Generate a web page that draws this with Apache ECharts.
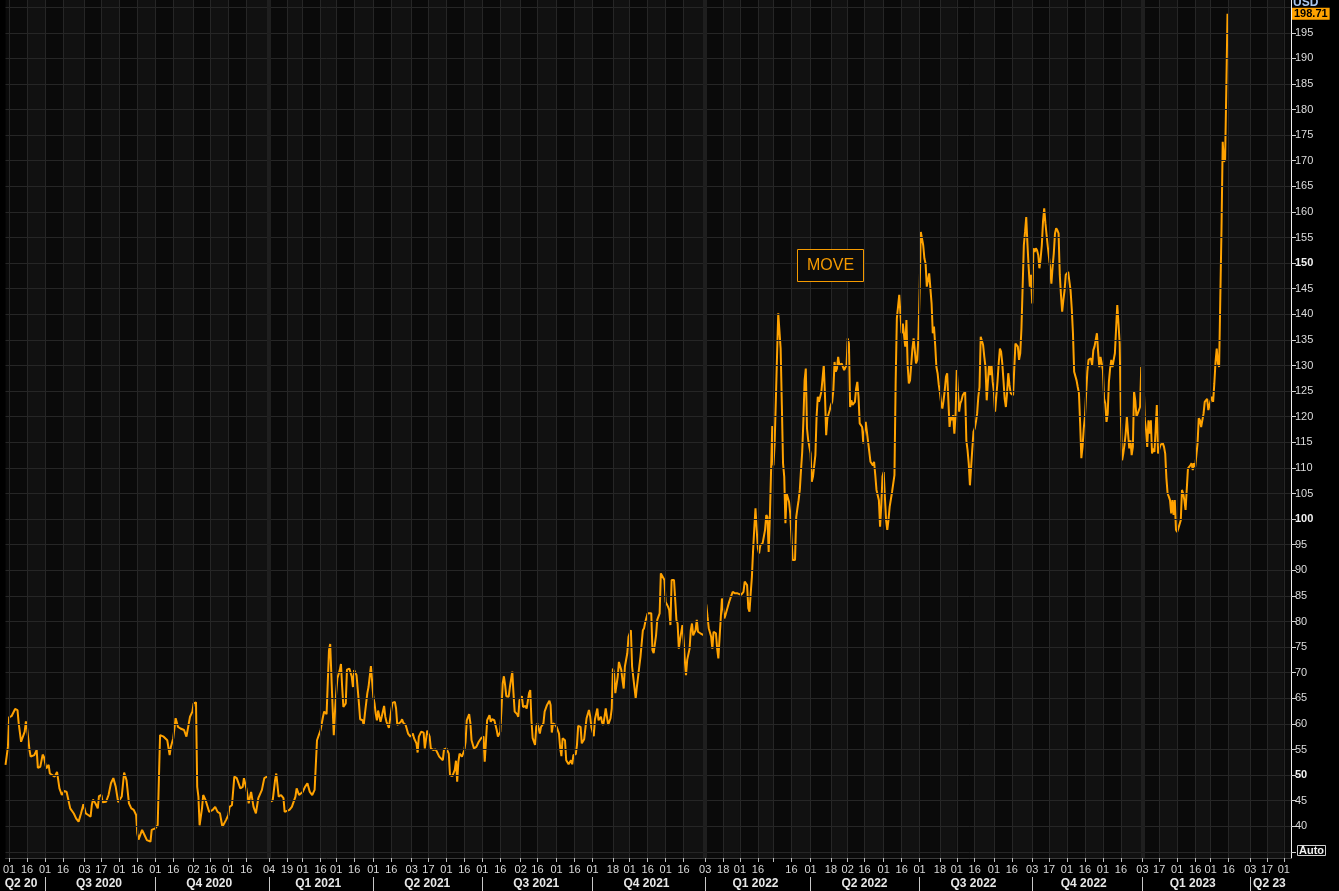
<!DOCTYPE html>
<html><head><meta charset="utf-8">
<script src="https://cdn.jsdelivr.net/npm/echarts@6/dist/echarts.min.js"></script>
<style>html,body{margin:0;padding:0;background:#000;}#chart{width:1339px;height:891px;}</style>
</head><body><div id="chart"></div>
<script>
const seriesName = 'MOVE';
const currency = 'USD';

const move2020 = [['2020-05-29',52.0],['2020-05-31',55.5],['2020-06-01',61.3],['2020-06-03',61.5],['2020-06-06',62.9],['2020-06-08',62.7],['2020-06-09',60.1],['2020-06-11',56.5],['2020-06-12',56.2],['2020-06-14',58.5],['2020-06-15',60.5],['2020-06-16',59.1],['2020-06-18',54.9],['2020-06-19',53.6],['2020-06-22',53.9],['2020-06-24',54.9],['2020-06-25',51.4],['2020-06-27',51.6],['2020-06-29',54.0],['2020-06-30',53.6],['2020-07-02',51.3],['2020-07-04',52.0],['2020-07-05',50.3],['2020-07-09',49.7],['2020-07-11',50.6],['2020-07-13',47.4],['2020-07-15',46.1],['2020-07-17',46.9],['2020-07-19',46.7],['2020-07-22',43.5],['2020-07-25',42.5],['2020-07-27',41.5],['2020-07-29',40.9],['2020-07-31',42.5],['2020-08-02',44.3],['2020-08-04',42.5],['2020-08-06',42.2],['2020-08-08',41.9],['2020-08-09',44.1],['2020-08-10',45.2],['2020-08-12',44.5],['2020-08-14',43.5],['2020-08-15',45.9],['2020-08-17',46.1],['2020-08-18',44.7],['2020-08-21',44.8],['2020-08-23',46.1],['2020-08-25',48.4],['2020-08-27',49.4],['2020-08-29',47.7],['2020-08-31',44.7],['2020-09-03',45.8],['2020-09-04',46.1],['2020-09-05',50.5],['2020-09-07',49.0],['2020-09-09',44.5],['2020-09-11',43.5],['2020-09-13',43.2],['2020-09-15',42.2],['2020-09-16',38.6],['2020-09-17',37.4],['2020-09-20',39.3],['2020-09-22',38.3],['2020-09-24',37.3],['2020-09-27',37.0],['2020-09-28',39.3],['2020-10-01',39.6],['2020-10-03',40.2],['2020-10-04',49.0],['2020-10-05',57.8],['2020-10-08',57.5],['2020-10-11',56.8],['2020-10-13',53.9],['2020-10-14',55.5],['2020-10-16',57.2],['2020-10-18',61.1],['2020-10-20',59.4],['2020-10-22',59.1],['2020-10-25',58.8],['2020-10-27',57.5],['2020-10-28',57.8],['2020-10-30',61.4],['2020-11-01',62.4],['2020-11-02',64.0],['2020-11-04',64.2],['2020-11-05',47.7],['2020-11-06',45.8],['2020-11-07',40.2],['2020-11-09',43.5],['2020-11-10',46.1],['2020-11-12',45.1],['2020-11-15',42.8],['2020-11-18',43.2],['2020-11-20',43.8],['2020-11-22',42.8],['2020-11-24',42.5],['2020-11-26',39.9],['2020-11-29',41.2],['2020-12-01',42.2],['2020-12-02',43.8],['2020-12-04',44.1],['2020-12-06',49.7],['2020-12-08',49.4],['2020-12-11',47.4],['2020-12-13',47.7],['2020-12-14',49.4],['2020-12-16',47.4],['2020-12-18',44.5],['2020-12-20',46.7],['2020-12-22',43.8],['2020-12-24',42.5],['2020-12-26',45.5],['2020-12-29',47.1],['2020-12-31',49.4]];

const move2021 = [['2021-01-03',49.8],['2021-01-04',48.4],['2021-01-05',44.8],['2021-01-07',45.0],['2021-01-09',49.0],['2021-01-10',50.3],['2021-01-12',45.8],['2021-01-14',46.1],['2021-01-16',45.5],['2021-01-17',42.8],['2021-01-21',43.2],['2021-01-23',43.8],['2021-01-26',45.8],['2021-01-27',47.4],['2021-01-29',46.1],['2021-02-01',46.7],['2021-02-03',47.7],['2021-02-05',48.4],['2021-02-07',46.7],['2021-02-09',46.1],['2021-02-11',47.1],['2021-02-12',52.0],['2021-02-13',56.8],['2021-02-14',56.5],['2021-02-16',58.8],['2021-02-18',61.4],['2021-02-19',62.4],['2021-02-21',61.9],['2021-02-22',68.2],['2021-02-23',74.4],['2021-02-24',75.6],['2021-02-25',75.4],['2021-02-26',63.3],['2021-02-27',57.8],['2021-02-28',62.4],['2021-03-01',66.0],['2021-03-02',68.9],['2021-03-04',70.5],['2021-03-05',71.7],['2021-03-06',67.2],['2021-03-07',63.3],['2021-03-09',64.0],['2021-03-10',70.6],['2021-03-12',70.8],['2021-03-14',69.2],['2021-03-15',67.2],['2021-03-16',70.5],['2021-03-18',69.5],['2021-03-20',64.0],['2021-03-21',60.9],['2021-03-23',60.7],['2021-03-24',59.8],['2021-03-25',62.0],['2021-03-27',66.0],['2021-03-28',67.2],['2021-03-30',71.3],['2021-03-31',71.2],['2021-04-01',65.3],['2021-04-02',64.0],['2021-04-03',62.0],['2021-04-04',60.7],['2021-04-05',62.6],['2021-04-07',60.4],['2021-04-08',61.4],['2021-04-10',63.5],['2021-04-11',61.4],['2021-04-12',60.4],['2021-04-14',59.2],['2021-04-16',62.7],['2021-04-17',64.1],['2021-04-19',64.3],['2021-04-20',63.0],['2021-04-21',59.8],['2021-04-24',60.4],['2021-04-25',60.9],['2021-04-26',60.2],['2021-04-28',59.8],['2021-04-30',58.1],['2021-05-02',57.5],['2021-05-04',58.1],['2021-05-05',57.2],['2021-05-07',56.2],['2021-05-08',54.4],['2021-05-09',57.5],['2021-05-11',58.5],['2021-05-13',58.3],['2021-05-14',55.2],['2021-05-16',58.7],['2021-05-18',57.5],['2021-05-19',55.2],['2021-05-21',54.9],['2021-05-23',55.0],['2021-05-24',54.6],['2021-05-26',53.6],['2021-05-27',53.3],['2021-05-29',52.9],['2021-05-30',55.0],['2021-06-01',55.2],['2021-06-03',54.2],['2021-06-04',50.0],['2021-06-06',49.8],['2021-06-08',51.0],['2021-06-09',52.8],['2021-06-10',48.7],['2021-06-11',52.6],['2021-06-12',54.2],['2021-06-14',53.6],['2021-06-16',54.9],['2021-06-17',56.5],['2021-06-18',60.7],['2021-06-20',61.9],['2021-06-21',60.2],['2021-06-22',56.8],['2021-06-24',55.2],['2021-06-26',55.5],['2021-06-28',56.5],['2021-06-30',57.2],['2021-07-02',57.5],['2021-07-03',52.6],['2021-07-04',56.5],['2021-07-05',60.7],['2021-07-07',61.7],['2021-07-08',60.4],['2021-07-09',60.9],['2021-07-11',60.7],['2021-07-13',58.8],['2021-07-14',57.5],['2021-07-16',58.5],['2021-07-17',63.0],['2021-07-18',67.9],['2021-07-19',69.3],['2021-07-20',67.6],['2021-07-21',65.4],['2021-07-23',65.3],['2021-07-24',67.2],['2021-07-26',70.2],['2021-07-27',66.0],['2021-07-28',62.4],['2021-07-30',61.9],['2021-07-31',61.4],['2021-08-01',64.6],['2021-08-03',65.4],['2021-08-04',63.3],['2021-08-06',63.5],['2021-08-07',63.0],['2021-08-09',66.0],['2021-08-10',66.6],['2021-08-11',60.7],['2021-08-12',57.2],['2021-08-14',55.9],['2021-08-15',59.4],['2021-08-16',60.1],['2021-08-18',58.1],['2021-08-19',59.4],['2021-08-21',60.1],['2021-08-22',62.4],['2021-08-24',63.7],['2021-08-26',64.5],['2021-08-27',63.7],['2021-08-28',58.3],['2021-08-29',60.1],['2021-08-31',59.8],['2021-09-01',59.4],['2021-09-03',58.1],['2021-09-04',55.2],['2021-09-05',53.7],['2021-09-06',57.2],['2021-09-08',56.8],['2021-09-09',52.9],['2021-09-11',52.1],['2021-09-13',52.9],['2021-09-14',52.1],['2021-09-15',53.9],['2021-09-17',54.1],['2021-09-18',55.9],['2021-09-19',59.6],['2021-09-21',59.4],['2021-09-22',56.2],['2021-09-24',57.0],['2021-09-25',59.1],['2021-09-26',61.1],['2021-09-28',62.7],['2021-09-29',61.5],['2021-09-30',59.4],['2021-10-02',57.6],['2021-10-03',60.9],['2021-10-05',63.0],['2021-10-06',60.7],['2021-10-08',61.4],['2021-10-09',60.2],['2021-10-10',59.8],['2021-10-12',63.0],['2021-10-13',61.4],['2021-10-14',59.8],['2021-10-16',61.1],['2021-10-17',63.0],['2021-10-18',70.8],['2021-10-19',69.9],['2021-10-20',66.0],['2021-10-22',69.2],['2021-10-23',72.1],['2021-10-25',70.5],['2021-10-26',68.5],['2021-10-27',66.9],['2021-10-28',71.2],['2021-10-30',73.8],['2021-10-31',77.0],['2021-11-02',78.3],['2021-11-03',71.2],['2021-11-06',65.0],['2021-11-07',67.2],['2021-11-09',71.2],['2021-11-10',73.1],['2021-11-12',78.3],['2021-11-13',78.7],['2021-11-14',79.9],['2021-11-16',81.6],['2021-11-19',81.6],['2021-11-20',74.4],['2021-11-21',73.8],['2021-11-23',77.3],['2021-11-24',80.3],['2021-11-26',81.6],['2021-11-27',89.4],['2021-11-28',89.7],['2021-11-30',88.1],['2021-12-01',83.8],['2021-12-03',82.9],['2021-12-04',82.2],['2021-12-05',79.3],['2021-12-06',88.1],['2021-12-08',88.1],['2021-12-09',84.2],['2021-12-10',80.3],['2021-12-11',79.6],['2021-12-12',74.7],['2021-12-13',76.4],['2021-12-15',79.3],['2021-12-16',76.4],['2021-12-17',72.5],['2021-12-18',69.5],['2021-12-19',72.5],['2021-12-21',74.7],['2021-12-22',78.3],['2021-12-23',79.6],['2021-12-24',77.3],['2021-12-26',78.3],['2021-12-27',80.3],['2021-12-28',78.0],['2021-12-30',77.7]];

const move2022 = [['2022-01-02',77.3],['2022-01-03',84.2],['2022-01-04',83.2],['2022-01-05',80.9],['2022-01-06',78.7],['2022-01-08',77.0],['2022-01-09',74.7],['2022-01-10',78.0],['2022-01-12',77.7],['2022-01-13',74.7],['2022-01-14',72.8],['2022-01-15',76.7],['2022-01-16',80.6],['2022-01-17',84.5],['2022-01-19',80.6],['2022-01-20',81.3],['2022-01-21',81.6],['2022-01-23',83.8],['2022-01-24',84.5],['2022-01-26',85.8],['2022-01-28',85.5],['2022-01-30',85.5],['2022-01-31',85.2],['2022-02-02',85.2],['2022-02-04',85.8],['2022-02-05',87.8],['2022-02-07',87.1],['2022-02-08',82.6],['2022-02-09',81.9],['2022-02-10',85.5],['2022-02-11',88.7],['2022-02-12',93.9],['2022-02-13',98.2],['2022-02-14',102.1],['2022-02-15',97.9],['2022-02-16',94.3],['2022-02-17',93.3],['2022-02-18',94.9],['2022-02-19',94.6],['2022-02-20',95.3],['2022-02-21',95.6],['2022-02-22',97.9],['2022-02-23',100.8],['2022-02-24',100.4],['2022-02-25',93.6],['2022-02-26',100.4],['2022-02-27',100.4],['2022-02-28',118.2],['2022-03-01',110.5],['2022-03-02',114.8],['2022-03-03',123.2],['2022-03-04',132.0],['2022-03-05',140.2],['2022-03-06',140.2],['2022-03-07',133.3],['2022-03-08',122.3],['2022-03-09',110.9],['2022-03-10',108.3],['2022-03-11',99.2],['2022-03-12',105.0],['2022-03-13',105.0],['2022-03-14',103.4],['2022-03-15',101.1],['2022-03-16',100.8],['2022-03-17',92.0],['2022-03-19',92.0],['2022-03-20',100.4],['2022-03-21',102.1],['2022-03-22',103.7],['2022-03-23',105.7],['2022-03-24',109.6],['2022-03-25',113.1],['2022-03-26',119.3],['2022-03-27',127.1],['2022-03-28',129.4],['2022-03-29',117.7],['2022-03-30',115.4],['2022-04-01',112.8],['2022-04-02',107.3],['2022-04-03',108.3],['2022-04-04',108.6],['2022-04-05',112.5],['2022-04-06',120.0],['2022-04-07',123.9],['2022-04-08',122.9],['2022-04-09',123.9],['2022-04-10',124.9],['2022-04-12',130.1],['2022-04-13',124.2],['2022-04-14',116.4],['2022-04-15',119.7],['2022-04-17',121.3],['2022-04-18',122.3],['2022-04-19',122.9],['2022-04-20',125.2],['2022-04-21',130.7],['2022-04-22',128.8],['2022-04-23',129.4],['2022-04-24',131.7],['2022-04-25',130.1],['2022-04-27',130.4],['2022-04-28',130.7],['2022-04-29',129.1],['2022-04-30',128.8],['2022-05-01',130.1],['2022-05-02',135.3],['2022-05-03',134.3],['2022-05-04',121.9],['2022-05-05',123.2],['2022-05-06',122.3],['2022-05-08',122.9],['2022-05-09',125.5],['2022-05-10',126.8],['2022-05-11',123.9],['2022-05-12',118.7],['2022-05-13',118.4],['2022-05-14',118.0],['2022-05-15',114.8],['2022-05-16',117.1],['2022-05-17',119.0],['2022-05-18',119.3],['2022-05-19',115.1],['2022-05-20',115.1],['2022-05-21',111.2],['2022-05-23',110.5],['2022-05-24',111.2],['2022-05-25',108.6],['2022-05-26',105.7],['2022-05-28',103.7],['2022-05-29',98.5],['2022-05-30',102.7],['2022-05-31',108.3],['2022-06-01',109.2],['2022-06-02',104.4],['2022-06-03',99.8],['2022-06-04',97.9],['2022-06-05',99.8],['2022-06-06',102.4],['2022-06-07',102.7],['2022-06-08',105.3],['2022-06-10',108.6],['2022-06-11',126.8],['2022-06-12',139.2],['2022-06-13',141.5],['2022-06-14',143.8],['2022-06-15',143.8],['2022-06-16',136.3],['2022-06-17',138.2],['2022-06-19',133.7],['2022-06-20',138.9],['2022-06-21',130.1],['2022-06-22',126.5],['2022-06-23',127.1],['2022-06-25',133.3],['2022-06-26',135.3],['2022-06-27',135.0],['2022-06-28',130.4],['2022-06-29',131.1],['2022-06-30',135.6],['2022-07-01',144.4],['2022-07-02',156.1],['2022-07-03',155.8],['2022-07-04',153.5],['2022-07-05',150.9],['2022-07-06',149.9],['2022-07-07',145.4],['2022-07-08',145.7],['2022-07-09',148.0],['2022-07-10',148.1],['2022-07-11',142.1],['2022-07-12',136.3],['2022-07-13',137.6],['2022-07-14',134.0],['2022-07-15',129.7],['2022-07-16',128.5],['2022-07-17',126.2],['2022-07-18',124.6],['2022-07-19',122.6],['2022-07-20',121.6],['2022-07-21',123.2],['2022-07-22',125.2],['2022-07-23',127.8],['2022-07-24',128.5],['2022-07-25',123.2],['2022-07-26',118.0],['2022-07-27',120.0],['2022-07-28',119.3],['2022-07-29',120.3],['2022-07-30',116.7],['2022-07-31',120.3],['2022-08-01',129.1],['2022-08-02',129.1],['2022-08-03',121.0],['2022-08-04',122.6],['2022-08-05',123.2],['2022-08-06',124.2],['2022-08-08',124.9],['2022-08-09',115.4],['2022-08-10',113.5],['2022-08-11',110.9],['2022-08-12',106.6],['2022-08-13',110.2],['2022-08-14',113.8],['2022-08-15',117.1],['2022-08-16',117.7],['2022-08-17',119.0],['2022-08-18',120.6],['2022-08-19',123.9],['2022-08-20',125.8],['2022-08-21',135.6],['2022-08-22',135.9],['2022-08-23',134.0],['2022-08-24',131.7],['2022-08-25',129.7],['2022-08-26',123.2],['2022-08-27',126.8],['2022-08-28',130.1],['2022-08-29',128.1],['2022-08-30',130.1],['2022-08-31',126.8],['2022-09-01',124.9],['2022-09-02',121.0],['2022-09-03',123.9],['2022-09-04',126.8],['2022-09-05',130.4],['2022-09-06',133.3],['2022-09-07',132.7],['2022-09-08',130.4],['2022-09-09',127.1],['2022-09-10',123.5],['2022-09-11',121.9],['2022-09-12',124.6],['2022-09-13',128.5],['2022-09-14',126.2],['2022-09-15',124.6],['2022-09-17',124.2],['2022-09-18',129.4],['2022-09-19',134.3],['2022-09-20',134.6],['2022-09-21',133.7],['2022-09-22',131.1],['2022-09-23',132.4],['2022-09-24',137.2],['2022-09-25',145.4],['2022-09-26',153.5],['2022-09-27',156.1],['2022-09-28',159.0],['2022-09-29',153.8],['2022-09-30',149.3],['2022-10-01',145.4],['2022-10-02',147.7],['2022-10-03',142.1],['2022-10-04',152.9],['2022-10-05',152.2],['2022-10-06',152.9],['2022-10-07',152.5],['2022-10-08',151.6],['2022-10-09',149.0],['2022-10-10',150.9],['2022-10-11',153.5],['2022-10-12',158.1],['2022-10-13',160.7],['2022-10-14',157.8],['2022-10-15',155.5],['2022-10-16',153.2],['2022-10-17',152.9],['2022-10-18',149.0],['2022-10-19',146.0],['2022-10-20',149.3],['2022-10-21',151.9],['2022-10-22',155.8],['2022-10-23',156.8],['2022-10-24',156.4],['2022-10-25',155.8],['2022-10-26',147.7],['2022-10-27',143.8],['2022-10-28',140.5],['2022-10-29',142.8],['2022-10-30',144.7],['2022-10-31',147.7],['2022-11-02',148.3],['2022-11-03',148.0],['2022-11-04',144.7],['2022-11-05',141.1],['2022-11-06',136.3],['2022-11-07',128.8],['2022-11-08',128.5],['2022-11-09',127.1],['2022-11-10',125.8],['2022-11-11',124.6],['2022-11-12',118.7],['2022-11-13',111.9],['2022-11-14',114.1],['2022-11-15',117.7],['2022-11-16',120.0],['2022-11-17',124.6],['2022-11-18',128.8],['2022-11-19',131.1],['2022-11-20',131.1],['2022-11-21',131.4],['2022-11-22',130.1],['2022-11-23',133.0],['2022-11-24',133.7],['2022-11-25',135.0],['2022-11-26',136.3],['2022-11-27',132.7],['2022-11-28',129.7],['2022-11-29',131.7],['2022-11-30',131.4],['2022-12-01',129.1],['2022-12-02',123.5],['2022-12-03',122.6],['2022-12-04',119.0],['2022-12-05',120.6],['2022-12-06',126.8],['2022-12-07',129.4],['2022-12-08',131.1],['2022-12-09',129.7],['2022-12-10',131.1],['2022-12-11',132.4],['2022-12-12',137.2],['2022-12-13',141.8],['2022-12-14',138.2],['2022-12-15',134.3],['2022-12-16',120.0],['2022-12-17',111.5],['2022-12-18',112.8],['2022-12-19',114.5],['2022-12-20',116.7],['2022-12-21',120.0],['2022-12-22',116.7],['2022-12-23',113.8],['2022-12-24',115.4],['2022-12-25',112.5],['2022-12-26',114.1],['2022-12-27',124.9],['2022-12-28',123.2],['2022-12-29',120.0],['2022-12-30',120.6],['2022-12-31',120.6]];

const move2023 = [['2023-01-01',121.9],['2023-01-02',129.7],['2023-01-03',129.1],['2023-01-04',126.5],['2023-01-05',119.3],['2023-01-06',117.4],['2023-01-07',114.1],['2023-01-08',119.3],['2023-01-09',116.7],['2023-01-10',119.3],['2023-01-11',112.8],['2023-01-12',113.8],['2023-01-13',113.1],['2023-01-14',117.4],['2023-01-15',122.3],['2023-01-16',112.8],['2023-01-17',113.1],['2023-01-18',114.5],['2023-01-20',114.8],['2023-01-21',114.1],['2023-01-22',112.8],['2023-01-23',108.0],['2023-01-24',105.0],['2023-01-25',104.4],['2023-01-26',103.7],['2023-01-27',101.1],['2023-01-28',103.7],['2023-01-29',100.8],['2023-01-30',103.7],['2023-01-31',97.9],['2023-02-01',97.5],['2023-02-02',98.2],['2023-02-03',98.5],['2023-02-04',99.8],['2023-02-05',105.7],['2023-02-06',105.0],['2023-02-07',103.7],['2023-02-08',101.8],['2023-02-09',102.1],['2023-02-10',109.9],['2023-02-11',110.2],['2023-02-12',110.5],['2023-02-13',110.9],['2023-02-14',109.6],['2023-02-15',110.9],['2023-02-16',110.2],['2023-02-17',110.5],['2023-02-18',114.8],['2023-02-19',119.7],['2023-02-20',119.3],['2023-02-21',118.0],['2023-02-22',117.7],['2023-02-23',120.6],['2023-02-24',122.9],['2023-02-25',123.2],['2023-02-26',123.5],['2023-02-27',121.3],['2023-02-28',122.3],['2023-03-01',123.2],['2023-03-02',123.9],['2023-03-03',122.9],['2023-03-04',126.5],['2023-03-05',130.7],['2023-03-06',133.3],['2023-03-07',130.4],['2023-03-08',129.7],['2023-03-09',129.4],['2023-03-10',156.8],['2023-03-11',173.7],['2023-03-12',169.8],['2023-03-13',170.2],['2023-03-14',184.1],['2023-03-15',198.71]];

const dayTickDates = ['2020-06-01','2020-06-16','2020-07-01','2020-07-16','2020-08-03','2020-08-17','2020-09-01','2020-09-16','2020-10-01','2020-10-16','2020-11-02','2020-11-16','2020-12-01','2020-12-16','2021-01-04','2021-01-19','2021-02-01','2021-02-16','2021-03-01','2021-03-16','2021-04-01','2021-04-16','2021-05-03','2021-05-17','2021-06-01','2021-06-16','2021-07-01','2021-07-16','2021-08-02','2021-08-16','2021-09-01','2021-09-16','2021-10-01','2021-10-18','2021-11-01','2021-11-16','2021-12-01','2021-12-16','2022-01-03','2022-01-18','2022-02-01','2022-02-16','2022-03-01','2022-03-16','2022-04-01','2022-04-18','2022-05-02','2022-05-16','2022-06-01','2022-06-16','2022-07-01','2022-07-18','2022-08-01','2022-08-16','2022-09-01','2022-09-16','2022-10-03','2022-10-17','2022-11-01','2022-11-16','2022-12-01','2022-12-16','2023-01-03','2023-01-17','2023-02-01','2023-02-16','2023-03-01','2023-03-16','2023-04-03','2023-04-17','2023-05-01'];
const unlabeledTickDates = ['2022-03-01'];
const yearStartDates = ['2021-01-04','2022-01-03','2023-01-03'];
const quarterBoundaryDates = ['2020-07-01','2020-10-01','2021-01-04','2021-04-01','2021-07-01','2021-10-01','2022-01-03','2022-04-01','2022-07-01','2022-10-03','2023-01-03','2023-04-03'];
const quarterLabels = ['Q2 20','Q3 2020','Q4 2020','Q1 2021','Q2 2021','Q3 2021','Q4 2021','Q1 2022','Q2 2022','Q3 2022','Q4 2022','Q1 2023','Q2 23'];
const quarterLabelDates = ['2020-06-11','2020-08-15','2020-11-15','2021-02-14','2021-05-16','2021-08-15','2021-11-15','2022-02-14','2022-05-16','2022-08-15','2022-11-15','2023-02-14','2023-04-19'];
const yGridValues = [35,40,45,50,55,60,65,70,75,80,85,90,95,100,105,110,115,120,125,130,135,140,145,150,155,160,165,170,175,180,185,190,195,200];
const yTickValues = [35,40,45,50,55,60,65,70,75,80,85,90,95,100,105,110,115,120,125,130,135,140,145,150,155,160,165,170,175,180,185,190,195];
const yLabelValues = [40,45,50,55,60,65,70,75,80,85,90,95,100,105,110,115,120,125,130,135,140,145,150,155,160,165,170,175,180,185,190,195];
const boldYLabels = [50,100,150];
const xMinDate = '2020-05-29';
const xMaxDate = '2023-05-07';
const yMin = 33.8, yMax = 201.4;

function ts(s) { const p = s.split('-'); return new Date(+p[0], +p[1] - 1, +p[2]).getTime(); }

const allPoints = [].concat(move2020, move2021, move2022, move2023).map(p => [ts(p[0]), p[1]]);
const lastValue = allPoints[allPoints.length - 1][1];
const qMap = {};
quarterLabelDates.forEach((d, i) => { qMap[ts(d)] = quarterLabels[i]; });
const labelTicks = dayTickDates.filter(d => unlabeledTickDates.indexOf(d) < 0).map(ts);

// alternate shading: second half of each month (tick on/after the 15th up to the next tick)
const bandData = [];
dayTickDates.forEach((d, i) => {
  if (+d.slice(8, 10) >= 15) {
    const end = i + 1 < dayTickDates.length ? ts(dayTickDates[i + 1]) : ts(xMaxDate);
    bandData.push([{ xAxis: ts(d) }, { xAxis: end }]);
  }
});

const gridLineData = [].concat(
  yGridValues.map(v => ({ yAxis: v })),
  dayTickDates.filter(d => yearStartDates.indexOf(d) < 0).map(d => ({ xAxis: ts(d) })),
  yearStartDates.map(d => ({ xAxis: ts(d), lineStyle: { color: '#1f1f1f', width: 4 } }))
);

const font = 'Liberation Sans';
const chart = echarts.init(document.getElementById('chart'), null, { renderer: 'canvas' });
chart.setOption({
  backgroundColor: '#000',
  animation: false,
  title: [
    { text: seriesName, left: 797, top: 249, padding: [9, 10, 8, 10], borderColor: '#f59a00', borderWidth: 1, backgroundColor: '#0c0c0c',
      textStyle: { color: '#f59a00', fontSize: 16, fontWeight: 'normal', fontFamily: font } },
    { text: currency, left: 1293, top: -3, padding: 0, textStyle: { color: '#a9c6ee', fontSize: 12, fontWeight: 'bold', fontFamily: font } },
    { text: 'Auto', left: 1297, top: 845, padding: [0, 2, 0, 2], borderColor: '#d0d0d0', borderWidth: 1,
      textStyle: { color: '#f0f0f0', fontSize: 11, fontWeight: 'bold', fontFamily: font } }
  ],
  grid: { left: 0, right: 48, top: 0, bottom: 33, show: true, backgroundColor: '#0a0a0a', borderWidth: 0 },
  xAxis: [
    { type: 'value', min: ts(xMinDate), max: ts(xMaxDate), position: 'bottom', scale: true,
      axisLine: { show: true, lineStyle: { color: '#3a3a3a', width: 1 } },
      axisTick: { show: true, customValues: dayTickDates.map(ts), length: 4, lineStyle: { color: '#bdbdbd' } },
      axisLabel: { customValues: labelTicks, margin: 6, fontSize: 11, color: '#d8d8d8', fontFamily: font, hideOverlap: false,
        formatter: v => String(new Date(v).getDate()).padStart(2, '0') },
      splitLine: { show: false } },
    { type: 'value', min: ts(xMinDate), max: ts(xMaxDate), position: 'bottom', offset: 19, scale: true,
      axisLine: { show: false },
      axisTick: { show: true, customValues: quarterBoundaryDates.map(ts), length: 15, lineStyle: { color: '#c8c8c8' } },
      axisLabel: { customValues: quarterLabelDates.map(ts), margin: 1, fontSize: 12, fontWeight: 'bold', color: '#e8e8e8', fontFamily: font, hideOverlap: false,
        formatter: v => qMap[v] || '' },
      splitLine: { show: false } }
  ],
  yAxis: {
    type: 'value', position: 'right', min: yMin, max: yMax,
    axisLine: { show: true, lineStyle: { color: '#f2f2f2', width: 1 } },
    axisTick: { show: true, customValues: yTickValues, length: 5, lineStyle: { color: '#d0d0d0' } },
    axisLabel: { customValues: yLabelValues, margin: 4, fontSize: 11, color: '#dcdcdc', fontFamily: font,
      formatter: v => boldYLabels.indexOf(v) >= 0 ? '{b|' + v + '}' : String(v),
      rich: { b: { fontWeight: 'bold', fontSize: 11, color: '#f2f2f2', fontFamily: font } } },
    splitLine: { show: false }
  },
  series: [
    { type: 'line', name: 'grid', data: [], z: 1, silent: true,
      markArea: { silent: true, itemStyle: { color: '#111111' }, emphasis: { disabled: true }, data: bandData },
      markLine: { silent: true, symbol: ['none', 'none'], animation: false, label: { show: false },
        lineStyle: { color: '#262626', width: 1, type: 'solid' }, emphasis: { disabled: true }, data: gridLineData } },
    { type: 'line', name: seriesName, data: allPoints, z: 3, showSymbol: false, smooth: false, sampling: 'none',
      lineStyle: { color: '#ffa200', width: 2 }, itemStyle: { color: '#ffa200' },
      markLine: { silent: true, symbol: ['none', 'none'], animation: false,
        lineStyle: { color: 'rgba(0,0,0,0)', width: 0 },
        label: { show: true, position: 'end', distance: 1, formatter: () => lastValue.toFixed(2), backgroundColor: '#ffa200',
          color: '#000', fontWeight: 'bold', fontSize: 11, fontFamily: font, padding: [1, 2, 0, 2] },
        emphasis: { disabled: true },
        data: [{ yAxis: lastValue }] } }
  ]
});
</script>
</body></html>
